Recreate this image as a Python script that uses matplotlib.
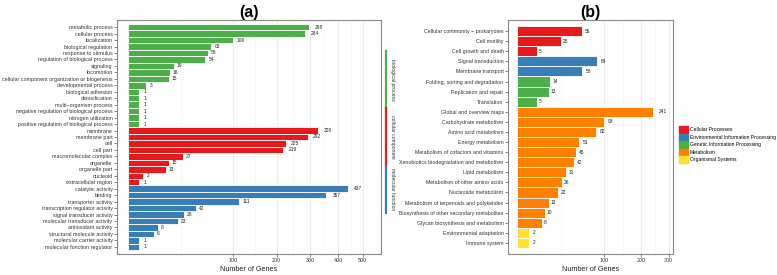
import numpy as np
import matplotlib.pyplot as plt

plt.rcParams['font.family'] = ['Liberation Sans', 'DejaVu Sans']

# panel (a) GO terms
bp_terms = ['metabolic process', 'cellular process', 'localization', 'biological regulation',
            'response to stimulus', 'regulation of biological process', 'signaling', 'locomotion',
            'cellular component organization or biogenesis', 'developmental process',
            'biological adhesion', 'detoxification', 'multi\u2212organism process',
            'negative regulation of biological process', 'nitrogen utilization',
            'positive regulation of biological process']
bp_vals = [298, 284, 100, 63, 58, 54, 19, 16, 15, 3, 1, 1, 1, 1, 1, 1]
cc_terms = ['membrane', 'membrane part', 'cell', 'cell part', 'macromolecular complex',
            'organelle', 'organelle part', 'nucleoid', 'extracellular region']
cc_vals = [328, 292, 225, 219, 27, 15, 13, 2, 1]
mf_terms = ['catalytic activity', 'binding', 'transporter activity',
            'transcription regulator activity', 'signal transducer activity',
            'molecular transducer activity', 'antioxidant activity',
            'structural molecule activity', 'molecular carrier activity',
            'molecular function regulator']
mf_vals = [437, 357, 111, 42, 28, 23, 8, 6, 1, 1]
go_groups = ['biological process', 'cellular component', 'molecular function']

# panel (b) KEGG pathways
kegg_terms = ['Cellular community \u2212 prokaryotes', 'Cell motility', 'Cell growth and death',
              'Signal transduction', 'Membrane transport',
              'Folding, sorting and degradation', 'Replication and repair', 'Translation',
              'Global and overview maps', 'Carbohydrate metabolism', 'Amino acid metabolism',
              'Energy metabolism', 'Metabolism of cofactors and vitamins',
              'Xenobiotics biodegradation and metabolism', 'Lipid metabolism',
              'Metabolism of other amino acids', 'Nucleotide metabolism',
              'Metabolism of terpenoids and polyketides',
              'Biosynthesis of other secondary metabolites',
              'Glycan biosynthesis and metabolism',
              'Environmental adaptation', 'Immune system']
kegg_vals = [55, 25, 5, 84, 56, 14, 13, 5, 241, 98, 82, 51, 45, 42, 31, 26, 22, 13, 10, 8, 2, 2]
kegg_class = [0, 0, 0, 1, 1, 2, 2, 2] + [3] * 12 + [4, 4]
kegg_groups = ['Cellular Processes', 'Environmental Information Processing',
               'Genetic Information Processing', 'Metabolism', 'Organismal Systems']

red, blue, green, orange, yellow = '#E41A1C', '#377EB8', '#4DAF4A', '#FF7F00', '#FFE033'


def fwd(x):
    x = np.asarray(x, dtype=float)
    return np.sign(x) * np.sqrt(np.abs(x))


def inv(x):
    x = np.asarray(x, dtype=float)
    return np.sign(x) * x ** 2


def style(ax, ticks, lsize):
    ax.set_xscale('function', functions=(fwd, inv))
    ax.set_xticks(ticks)
    ax.set_xticklabels([str(t) for t in ticks])
    mids = [inv((fwd(a) + fwd(b)) / 2) for a, b in zip([0] + ticks[:-1], ticks)]
    ax.set_xticks(mids, minor=True)
    ax.grid(axis='x', which='major', color='#ebebeb', lw=0.6)
    ax.grid(axis='x', which='minor', color='#f4f4f4', lw=0.4)
    ax.set_axisbelow(True)
    for s in ax.spines.values():
        s.set_color('#888888')
        s.set_linewidth(0.8)
    ax.tick_params(axis='both', which='major', length=2, width=0.5, color='#555555',
                   labelsize=lsize, pad=1.2, labelcolor='#333333')
    ax.tick_params(axis='x', which='minor', length=0)
    ax.set_xlabel('Number of Genes', fontsize=5.2, labelpad=2, color='#222222')


fig = plt.figure(figsize=(7.77, 2.75), dpi=100)

# ---- panel (a)
ax1 = fig.add_axes([117 / 777, 1 - 254 / 275, 264 / 777, 234 / 275])
terms = bp_terms + cc_terms + mf_terms
vals = bp_vals + cc_vals + mf_vals
cols = [green] * len(bp_vals) + [red] * len(cc_vals) + [blue] * len(mf_vals)
y = np.arange(len(terms))
ax1.barh(y, vals, height=1.0, color=cols, edgecolor='white', linewidth=0.6)
for yi, v in zip(y, vals):
    ax1.text(v * 1.06 + 1.2, yi, str(v), fontsize=3.5, va='center', ha='left', color='#222222')
ax1.set_yticks(y)
ax1.set_yticklabels(terms)
ax1.set_ylim(len(terms) - 0.5 + 0.6, -0.5 - 0.6)
ax1.set_xlim(-1.1, 580)
style(ax1, [100, 200, 300, 400, 500], 3.9)
ax1.set_title('(a)', fontsize=11.5, fontweight='bold', pad=1)

# group strip on the right
ytop, ybot = 51, 213
seg = [(ytop, 108, green), (108, 166, red), (166, ybot, blue)]
for (t, b, c), name in zip(seg, go_groups):
    fig.add_artist(plt.Line2D([386 / 777, 386 / 777], [1 - t / 275, 1 - b / 275],
                              color=c, lw=1.6, transform=fig.transFigure))
    fig.text(390 / 777, 1 - (t + b) / 2 / 275, name, rotation=-90, fontsize=3.7,
             va='center', ha='left', color='#333333')

# ---- panel (b)
ax2 = fig.add_axes([508 / 777, 1 - 254 / 275, 165 / 777, 234 / 275])
pal = [red, blue, green, orange, yellow]
y2 = np.arange(len(kegg_terms))
ax2.barh(y2, kegg_vals, height=1.0, color=[pal[c] for c in kegg_class],
         edgecolor='white', linewidth=0.6)
for yi, v in zip(y2, kegg_vals):
    ax2.text(v * 1.08 + 1.0, yi, str(v), fontsize=3.5, va='center', ha='left', color='#222222')
ax2.set_yticks(y2)
ax2.set_yticklabels(kegg_terms)
ax2.set_ylim(len(kegg_terms) - 0.5 + 0.6, -0.5 - 0.6)
ax2.set_xlim(-1.06, 318)
style(ax2, [100, 200, 300], 3.75)
ax2.set_title('(b)', fontsize=11.5, fontweight='bold', pad=1)

handles = [plt.Rectangle((0, 0), 1, 1, color=c) for c in pal]
fig.legend(handles, kegg_groups, loc='upper left', bbox_to_anchor=(679 / 777, 1 - 126 / 275),
           fontsize=3.6, frameon=False, handlelength=1.8, handleheight=1.8,
           handletextpad=0.35, labelspacing=0.1, borderaxespad=0, borderpad=0)

fig.savefig('out.png', dpi=100)
